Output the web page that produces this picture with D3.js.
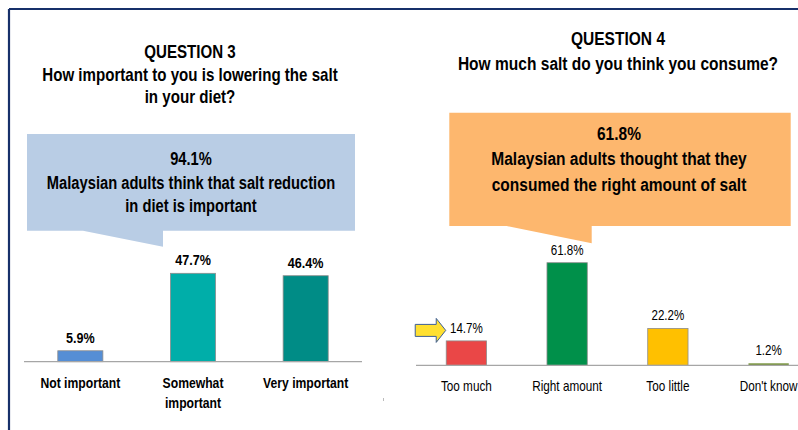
<!DOCTYPE html>
<html>
<head>
<meta charset="utf-8">
<script src="https://cdn.jsdelivr.net/npm/d3@7"></script>
<style>
  body { margin: 0; background: #fff; }
  svg { display: block; font-family: "Liberation Sans", Arial, sans-serif; }
</style>
</head>
<body>
<div id="chart"></div>
<script>
// question 3
let q3Title = ['QUESTION 3', 'How important to you is lowering the salt', 'in your diet?']
let q3Note = ['94.1%', 'Malaysian adults think that salt reduction', 'in diet is important']
let q3Categories = [['Not important'], ['Somewhat', 'important'], ['Very important']]
let q3Values = [5.9, 47.7, 46.4]
let q3Labels = ['5.9%', '47.7%', '46.4%']
let q3Colors = ['#558ed5', '#00aea9', '#008c86']

// question 4
let q4Title = ['QUESTION 4', 'How much salt do you think you consume?']
let q4Note = ['61.8%', 'Malaysian adults thought that they', 'consumed the right amount of salt']
let q4Categories = ['Too much', 'Right amount', 'Too little', "Don't know"]
let q4Values = [14.7, 61.8, 22.2, 1.2]
let q4Labels = ['14.7%', '61.8%', '22.2%', '1.2%']
let q4Colors = ['#ea4747', '#00904a', '#ffc000', '#77933c']

let width = 798,
  height = 430,
  narrow = 0.84 // no Arial Narrow here, so squeeze the text sideways

let svg = d3.select('#chart').append('svg')
  .attr('width', width)
  .attr('height', height)

// frame
svg.append('line')
  .attr('x1', 9).attr('y1', 9).attr('x2', width).attr('y2', 9)
  .attr('stroke', '#17306a').attr('stroke-width', 2.2)
svg.append('line')
  .attr('x1', 9).attr('y1', 9).attr('x2', 9).attr('y2', height)
  .attr('stroke', '#17306a').attr('stroke-width', 2.2)
svg.append('line')
  .attr('x1', 383.5).attr('y1', 398).attr('x2', 383.5).attr('y2', 401)
  .attr('stroke', '#bbb')

// centered, condensed text
function label(parent, str, x, y, size, bold) {
  return parent.append('text')
    .text(str)
    .attr('transform', 'translate(' + x + ',' + y + ') scale(' + narrow + ',1)')
    .attr('text-anchor', 'middle')
    .attr('font-weight', bold ? 'bold' : 'normal')
    .attr('font-size', size)
    .attr('fill', '#000')
}

function textBlock(lines, cx, y0, dy, size) {
  let g = svg.append('g')
  lines.forEach(function (d, i) {
    label(g, d, cx, y0 + i * dy, size, true)
  })
}

// callout box with a tail pointing down
function callout(box, tail, fill) {
  let p = d3.path()
  p.moveTo(box.x0, box.y0)
  p.lineTo(box.x1, box.y0)
  p.lineTo(box.x1, box.y1)
  p.lineTo(tail.tx, box.y1)
  p.lineTo(tail.tx, tail.ty)
  p.lineTo(tail.sx, box.y1)
  p.lineTo(box.x0, box.y1)
  p.closePath()
  svg.append('path')
    .attr('d', p.toString())
    .attr('fill', fill)
}

// ---------- left panel ----------
textBlock(q3Title, 190, 58, 22.5, 18)

let x3 = d3.scaleBand()
  .domain(q3Values.map(function (d, i) { return i }))
  .range([24, 362])
  .paddingInner(0.6)
  .paddingOuter(0.3)

let y3 = d3.scaleLinear()
  .domain([0, 100])
  .range([361.7, 361.7 - 185.3])

callout({x0: 27, y0: 134, x1: 355, y1: 230.7}, {sx: 83, tx: 163, ty: 246.7}, '#b9cde5')
textBlock(q3Note, 191, 165, 23.5, 17.5)

let left = svg.append('g')

left.selectAll('.bar')
  .data(q3Values)
  .enter().append('rect')
  .attr('class', 'bar')
  .attr('x', function (d, i) { return x3(i) })
  .attr('y', function (d) { return y3(d) })
  .attr('width', x3.bandwidth())
  .attr('height', function (d) { return y3(0) - y3(d) })
  .attr('fill', function (d, i) { return q3Colors[i] })
  .attr('stroke', '#8c8c8c')
  .attr('stroke-width', 0.8)

left.append('line')
  .attr('x1', 24).attr('x2', 362)
  .attr('y1', y3(0)).attr('y2', y3(0))
  .attr('stroke', '#a6a6a6')
  .attr('stroke-width', 1.2)

q3Values.forEach(function (d, i) {
  let cx = x3(i) + x3.bandwidth() / 2
  label(left, q3Labels[i], cx, y3(d) - 8, 15, true)
  q3Categories[i].forEach(function (t, j) {
    label(left, t, cx, y3(0) + 26.5 + j * 20, 14.5, true)
  })
})

// ---------- right panel ----------
textBlock(q4Title, 618, 45, 25, 18.5)

let x4 = d3.scaleBand()
  .domain(q4Categories)
  .range([416, 819])
  .paddingInner(0.6)
  .paddingOuter(0.3)

let y4 = d3.scaleLinear()
  .domain([0, 100])
  .range([365.3, 365.3 - 166])

callout({x0: 449.3, y0: 112.7, x1: 790.7, y1: 226}, {sx: 506.7, tx: 591.7, ty: 243.3}, '#fdb76e')
textBlock(q4Note, 619, 139.5, 25.8, 18.5)

let right = svg.append('g')

right.selectAll('.bar')
  .data(q4Values)
  .enter().append('rect')
  .attr('class', 'bar')
  .attr('x', function (d, i) { return x4(q4Categories[i]) })
  .attr('y', function (d) { return y4(d) })
  .attr('width', x4.bandwidth())
  .attr('height', function (d) { return y4(0) - y4(d) })
  .attr('fill', function (d, i) { return q4Colors[i] })
  .attr('stroke', function (d, i) { return i === 3 ? 'none' : '#8c8c8c' })
  .attr('stroke-width', 0.8)

right.append('line')
  .attr('x1', 416).attr('x2', width)
  .attr('y1', y4(0)).attr('y2', y4(0))
  .attr('stroke', '#a6a6a6')
  .attr('stroke-width', 1.2)

q4Values.forEach(function (d, i) {
  let cx = x4(q4Categories[i]) + x4.bandwidth() / 2
  label(right, q4Labels[i], cx, y4(d) - 8, 13.8, false)
  label(right, q4Categories[i], cx, y4(0) + 25.5, 14, false)
})

// yellow arrow pointing at "Too much"
let ax = x4(q4Categories[0]) - 31,
  ay = y4(q4Values[0]) - 10.5
let arrow = d3.path()
arrow.moveTo(ax, ay - 6)
arrow.lineTo(ax + 21, ay - 6)
arrow.lineTo(ax + 21, ay - 12)
arrow.lineTo(ax + 30.5, ay)
arrow.lineTo(ax + 21, ay + 12)
arrow.lineTo(ax + 21, ay + 6)
arrow.lineTo(ax, ay + 6)
arrow.closePath()
svg.append('path')
  .attr('d', arrow.toString())
  .attr('fill', '#ffe030')
  .attr('stroke', '#3e5f95')
  .attr('stroke-width', 1)
</script>
</body>
</html>
